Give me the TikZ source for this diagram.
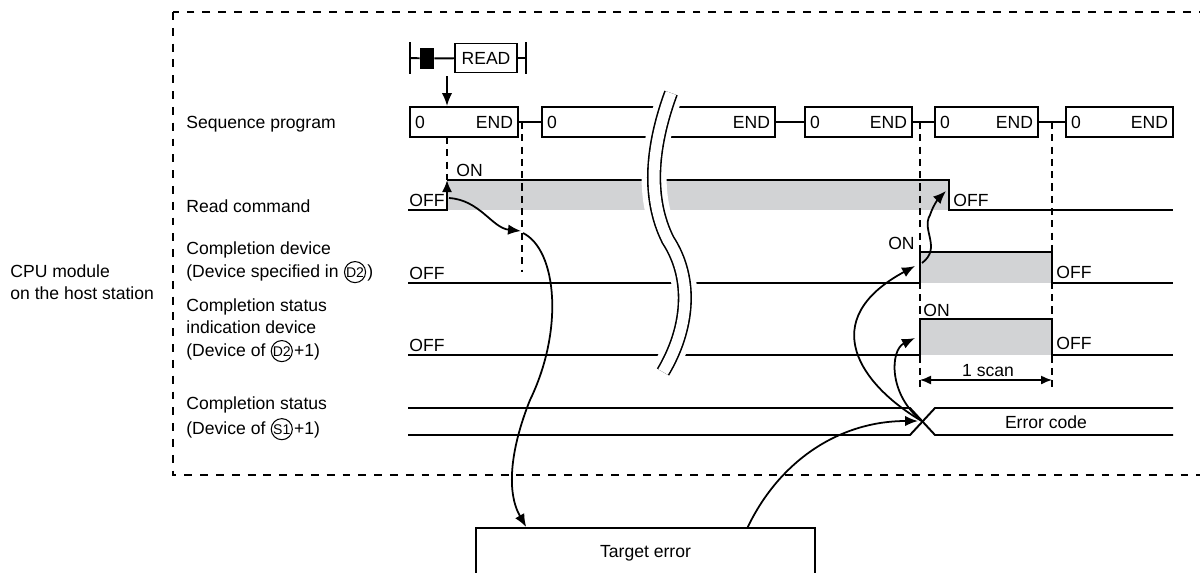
\documentclass[tikz,border=0pt]{standalone}
\usepackage{fontspec}
\setmainfont{Liberation Sans}
\usepackage{tikz}
\usetikzlibrary{arrows.meta, calc}
\definecolor{siggray}{RGB}{210,211,213}
\tikzstyle{seqbox} = [rectangle, draw, line width=1.1pt, minimum height=0.6cm,
                      inner xsep=0.1cm, inner ysep=0pt]
\tikzstyle{lvl}    = [anchor=base west, inner sep=0pt]
\tikzstyle{circ}   = [circle, draw, line width=0.6pt, inner sep=0pt, minimum size=12pt,
                      anchor=base, font=\fontsize{8}{8}\selectfont]
\tikzstyle{sig}    = [line width=1.1pt]
\tikzstyle{guide}  = [dash pattern=on 4pt off 3pt, line width=0.8pt]
\tikzstyle{arr}    = [-{Latex[length=2.6mm, width=2.1mm]}, line width=1pt]

\begin{document}
\begin{tikzpicture}[x=0.02cm, y=-0.02cm, font=\fontsize{10}{12.8}\selectfont]
    \useasboundingbox (0,0) rectangle (1200,572);

    % host station frame (right side runs off the page)
    \draw[dash pattern=on 4.5pt off 4.5pt, line width=0.9pt] (173,12) rectangle (1215,475);

    % row labels
    \node[lvl] (lcpu1) at (10,277) {CPU module};
    \node[lvl] (lcpu2) at (10,299) {on the host station};
    \node[lvl] (lseq) at (186,128) {Sequence program};
    \node[lvl] (lrd)  at (186,212) {Read command};
    \node[lvl] (lcd1) at (186,254) {Completion device};
    \node[lvl] (lcd2) at (186,277) {(Device specified in};
    \node[circ] (lcd3) at ($(lcd2.base east)+(16,0)$) {D2};
    \node[lvl] at ($(lcd3.east |- lcd3.base)+(1,0)$) {)};
    \node[lvl] (lci1) at (186,311) {Completion status};
    \node[lvl] (lci2) at (186,333) {indication device};
    \node[lvl] (lci3) at (186,356) {(Device of};
    \node[circ] (lci4) at ($(lci3.base east)+(16,0)$) {D2};
    \node[lvl] at ($(lci4.east |- lci4.base)+(1,0)$) {+1)};
    \node[lvl] (lcs1) at (186,409) {Completion status};
    \node[lvl] (lcs2) at (186,434) {(Device of};
    \node[circ] (lcs3) at ($(lcs2.base east)+(16,0)$) {S1};
    \node[lvl] at ($(lcs3.east |- lcs3.base)+(1,0)$) {+1)};

    % READ instruction
    \draw[sig] (410,42) -- (410,74);
    \draw[sig] (526,42) -- (526,74);
    \node[fill, inner sep=0pt, minimum width=0.28cm, minimum height=0.42cm] (cont) at (427,58.5) {};
    \node[draw, line width=1pt, inner sep=0pt, minimum width=1.24cm, minimum height=0.58cm] (rd) at (486,58) {READ};
    \draw[sig] (410,58) -- (cont) -- (rd) -- (526,58);
    \draw[arr] (447,76) -- (447,106);

    % sequence program scans
    \node[seqbox, text width=1.96cm] (s1) at (464,122)    {0\hfill END};
    \node[seqbox, text width=4.46cm] (s2) at (658.5,122)  {0\hfill END};
    \node[seqbox, text width=1.94cm] (s3) at (858.5,122)  {0\hfill END};
    \node[seqbox, text width=1.86cm] (s4) at (986.5,122)  {0\hfill END};
    \node[seqbox, text width=1.94cm] (s5) at (1119.5,122) {0\hfill END};
    \draw[sig] (s1) -- (s2);
    \draw[sig] (s2) -- (s3);
    \draw[sig] (s3) -- (s4);
    \draw[sig] (s4) -- (s5);

    % gray ON areas
    \fill[siggray] (447,180) rectangle (949,210);
    \fill[siggray] (920,252) rectangle (1052,283);
    \fill[siggray] (920,319) rectangle (1052,355);

    % guides
    \draw[guide] (447,137) -- (447,180);
    \draw[guide] (522,122) -- (522,272);
    \draw[guide] (920,122) -- (920,388);
    \draw[guide] (1052,122) -- (1052,388);

    % signals
    \draw[sig, -{Latex[length=2.4mm, width=2mm]}] (408,210) -| (447,180);
    \draw[sig] (447,180) -| (949,210) -- (1173,210);
    \draw[sig] (408,283) -| (920,252) -| (1052,283) -- (1173,283);
    \draw[sig] (408,355) -| (920,319) -| (1052,355) -- (1173,355);
    \draw[sig] (408,408) -- (910,408) -- (935,435) -- (1173,435);
    \draw[sig] (408,435) -- (910,435) -- (935,408) -- (1173,408);
    \coordinate (xerr) at (922.5,421.5);

    % time break
    \draw[white, line width=0.5cm] (671,93) .. controls (650,150) and (648,200) .. (668,240)
         .. controls (694,280) and (688,330) .. (663,372);
    \draw[line width=0.9pt, double=white, double distance=0.22cm] (671,93) .. controls (650,150) and (648,200) .. (668,240)
         .. controls (694,280) and (688,330) .. (663,372);

    % levels
    \node[lvl] at (456,176) {ON};
    \node[lvl] at (409,206) {OFF};
    \node[lvl] at (953,206) {OFF};
    \node[anchor=base east, inner sep=0pt] at (915,249) {ON};
    \node[lvl] at (409,279) {OFF};
    \node[lvl] at (1056,278) {OFF};
    \node[lvl] at (923,316) {ON};
    \node[lvl] at (409,351) {OFF};
    \node[lvl] at (1056,349) {OFF};
    \node[anchor=base, inner sep=0pt] (scan) at (988,376) {1 scan};
    \draw[{Latex[length=2.2mm, width=1.8mm]}-{Latex[length=2.2mm, width=1.8mm]}, line width=0.8pt] (920,380) -- (1052,380);
    \node[anchor=base, inner sep=0pt] (ecode) at (1046,428) {Error code};

    % target station
    \node[draw, line width=1.1pt, minimum width=6.78cm, minimum height=1cm] (te) at (645.5,553) {Target error};

    % cause and effect
    \draw[arr] (449,198) .. controls (480,200) and (492,228) .. (521,231);
    \draw[arr] (523,233) .. controls (557,250) and (564,330) .. (530,400)
         .. controls (512,445) and (505,490) .. ($(te.north west)!0.15!(te.north east)$);
    \draw[arr] ($(te.north west)!0.8!(te.north east)$) .. controls (780,460) and (840,421) .. (918,421);
    \draw[arr] (xerr) .. controls (860,385) and (815,320) .. (915,266);
    \draw[arr] (xerr) .. controls (888,395) and (890,350) .. (915,338);
    \draw[arr] (922,263) .. controls (942,248) and (921,230) .. (930,215)
         .. controls (934,203) and (940,197) .. (946,191);
\end{tikzpicture}
\end{document}
